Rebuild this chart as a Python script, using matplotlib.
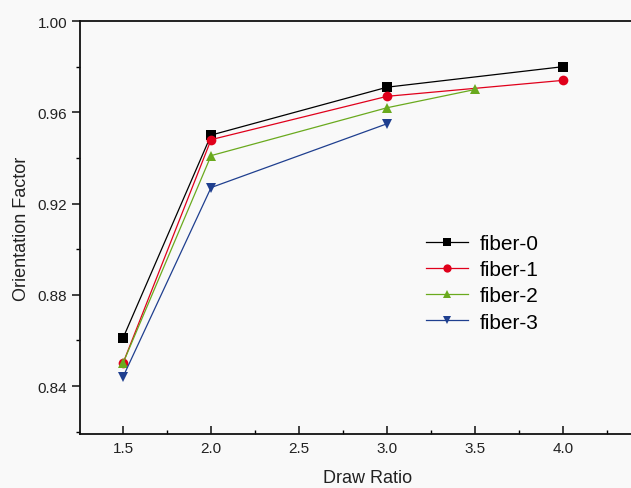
import matplotlib
matplotlib.use("Agg")
import matplotlib.pyplot as plt
from matplotlib.ticker import MultipleLocator, AutoMinorLocator

plt.rcParams['font.family'] = ['Liberation Sans', 'DejaVu Sans']

x0 = [1.5, 2.0, 3.0, 4.0]
fiber0 = [0.861, 0.950, 0.971, 0.980]
x1 = [1.5, 2.0, 3.0, 4.0]
fiber1 = [0.850, 0.948, 0.967, 0.974]
x2 = [1.5, 2.0, 3.0, 3.5]
fiber2 = [0.850, 0.941, 0.962, 0.970]
x3 = [1.5, 2.0, 3.0]
fiber3 = [0.844, 0.927, 0.955]

series = [
    ("fiber-0", x0, fiber0, "#000000", "s"),
    ("fiber-1", x1, fiber1, "#e0001b", "o"),
    ("fiber-2", x2, fiber2, "#6aaa1e", "^"),
    ("fiber-3", x3, fiber3, "#1f3f8f", "v"),
]

bg = "#f9f9f9"
fig = plt.figure(figsize=(6.31, 4.89), dpi=100, facecolor=bg)
ax = fig.add_axes([80/631, 1-435/489, 575/631, (435-22)/489], facecolor=bg)

for name, xs, ys, c, m in series:
    ax.plot(xs, ys, color=c, lw=0.9, marker=m, markersize=7, markeredgewidth=0,
            label=name)

ax.set_xlim(1.256, 4.52)
ax.set_ylim(0.819, 1.0)
ax.xaxis.set_minor_locator(AutoMinorLocator(2))
ax.yaxis.set_minor_locator(AutoMinorLocator(2))
ax.set_yticks([0.84, 0.88, 0.92, 0.96, 1.00])
ax.set_yticklabels(["0.84", "0.88", "0.92", "0.96", "1.00"])
ax.set_xticks([1.5, 2.0, 2.5, 3.0, 3.5, 4.0])
ax.set_xticklabels(["1.5", "2.0", "2.5", "3.0", "3.5", "4.0"])

ax.tick_params(axis='x', which='major', direction='in', length=6, width=1.2,
               labelsize=11, pad=5, colors='#222222')
ax.tick_params(axis='x', which='minor', direction='in', length=3, width=1.0)
ax.tick_params(axis='y', which='major', direction='out', length=6, width=1.2,
               labelsize=11, pad=3, colors='#222222')
ax.tick_params(axis='y', which='minor', direction='out', length=3, width=1.0)
for s in ax.spines.values():
    s.set_linewidth(1.3)
    s.set_color('#111111')

ax.set_xlabel("Draw Ratio", fontsize=13, color='#222222', labelpad=10)
ax.set_ylabel("Orientation Factor", fontsize=13, color='#222222', labelpad=6)

leg = ax.legend(loc='upper left', bbox_to_anchor=(0.569, 0.53), frameon=False,
                fontsize=15, handlelength=2.0, handletextpad=0.6,
                labelspacing=0.35, markerscale=0.85)

fig.savefig("out.png", dpi=100, facecolor=bg)
